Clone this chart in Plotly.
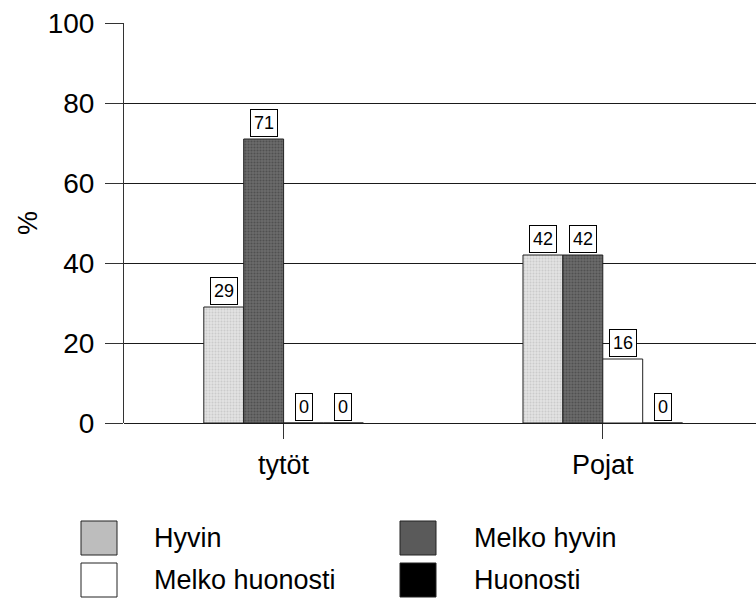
import plotly.graph_objects as go

# Survey answers by group (%)
groups = ["tytöt", "Pojat"]
series = ["Hyvin", "Melko hyvin", "Melko huonosti", "Huonosti"]
hyvin = [29, 42]
melko_hyvin = [71, 42]
melko_huonosti = [0, 16]
huonosti = [0, 0]
values = [hyvin, melko_hyvin, melko_huonosti, huonosti]

y_ticks = [0, 20, 40, 60, 80, 100]

# halftone-like fills: (background, dot colour, dot spacing)
bar_fills = [
    ("#e2e2e2", "#b4b4b4", 3),
    ("#6a6a6a", "#363636", 3),
    ("#ffffff", None, 0),
    ("#000000", None, 0),
]
swatch_colors = ["#bdbdbd", "#5a5a5a", "#ffffff", "#000000"]

W, H = 756, 598
M = dict(l=124, r=0, t=23, b=175)
FONT = "Liberation Sans, Arial, sans-serif"

x_idx = list(range(len(groups)))
bargap = 0.5
n = len(series)
bar_w = (1 - bargap) / n

fig = go.Figure()
for i, (name, vals) in enumerate(zip(series, values)):
    bg, fg, size = bar_fills[i]
    marker = dict(color=bg, line=dict(color="#222222", width=1))
    if fg:
        marker["pattern"] = dict(shape=".", fgcolor=fg, bgcolor=bg,
                                 size=size, solidity=0.35)
    fig.add_trace(go.Bar(x=x_idx, y=vals, name=name, marker=marker,
                         showlegend=False))
    # boxed value labels above each bar
    offset = -(1 - bargap) / 2 + bar_w * (i + 0.5)
    for xi, v in zip(x_idx, vals):
        fig.add_annotation(
            x=xi + offset, y=v, xref="x", yref="y",
            text=str(v), showarrow=False,
            yanchor="bottom", yshift=2,
            font=dict(family=FONT, size=18, color="black"),
            bgcolor="white", bordercolor="black", borderwidth=1, borderpad=3,
        )

# legend drawn as large swatches below the plot
plot_w = W - M["l"] - M["r"]
plot_h = H - M["t"] - M["b"]

def px_x(px):
    return (px - M["l"]) / plot_w

def px_y(py):
    return (H - M["b"] - py) / plot_h

col_swatch = [81, 400]
col_text = [152, 472]
row_top = [521, 563]
sw_w, sw_h = 36, 34
for i, name in enumerate(series):
    r, c = divmod(i, 2)
    x0, y0 = col_swatch[c], row_top[r]
    fig.add_shape(
        type="rect", xref="paper", yref="paper",
        x0=px_x(x0), x1=px_x(x0 + sw_w), y0=px_y(y0), y1=px_y(y0 + sw_h),
        fillcolor=swatch_colors[i], line=dict(color="#222222", width=1),
    )
    fig.add_annotation(
        x=px_x(col_text[c]), y=px_y(y0 + sw_h / 2), xref="paper", yref="paper",
        text=name, showarrow=False, xanchor="left", yanchor="middle",
        font=dict(family=FONT, size=27, color="black"),
    )

fig.update_layout(
    width=W, height=H, margin=M,
    paper_bgcolor="white", plot_bgcolor="white",
    barmode="group", bargap=bargap, bargroupgap=0,
    font=dict(family=FONT, color="black"),
)
fig.update_xaxes(
    range=[-0.5, 1.48], tickvals=x_idx, ticktext=groups,
    ticks="outside", ticklen=15, tickcolor="#333333",
    tickfont=dict(size=27), ticklabelstandoff=3,
    showgrid=False, showline=False, zeroline=False,
)
fig.update_yaxes(
    range=[0, 100], tickvals=y_ticks,
    ticks="outside", ticklen=18, tickcolor="#333333",
    tickfont=dict(size=28), ticklabelstandoff=5,
    showline=True, linecolor="#333333", linewidth=1,
    showgrid=True, gridcolor="#1a1a1a", gridwidth=1,
    zeroline=True, zerolinecolor="#1a1a1a", zerolinewidth=1,
    title=dict(text="%", font=dict(size=27), standoff=2),
)

fig.write_html("out.html")
